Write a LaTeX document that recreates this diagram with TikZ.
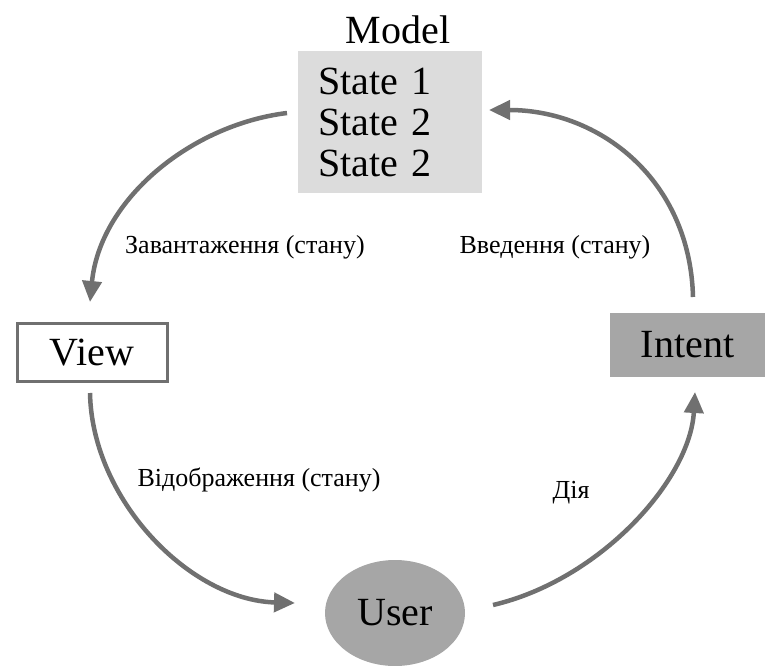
\documentclass[tikz,border=0pt]{standalone}
\usepackage{fontspec}
\setmainfont{Liberation Serif}
\usetikzlibrary{arrows.meta,shapes.geometric}
\definecolor{flowgray}{HTML}{707070}
\definecolor{modelgray}{HTML}{DCDCDC}
\definecolor{darkgray}{HTML}{A6A6A6}
\tikzset{
bigtext/.style={font=\fontsize{40}{41}\selectfont},
smalltext/.style={font=\fontsize{26}{30}\selectfont},
modelbox/.style={bigtext, fill=modelgray, minimum width=184pt, minimum height=141pt,
  text width=144pt, inner xsep=20pt, inner ysep=0pt, align=left},
viewbox/.style={bigtext, draw=flowgray, line width=3pt, minimum width=150pt, minimum height=58pt, inner sep=0pt},
intentbox/.style={bigtext, fill=darkgray, minimum width=155pt, minimum height=64pt, inner sep=0pt},
userblob/.style={bigtext, ellipse, fill=darkgray, minimum width=140pt, minimum height=106pt, inner sep=0pt},
flow/.style={draw=flowgray, line width=4.5pt, -{Triangle[length=21pt,width=19pt]}}
}
\begin{document}
\begin{tikzpicture}[x=1pt,y=-1pt]
\useasboundingbox (0,0) rectangle (765,666);
\node[bigtext] (modellbl) at (398,30) {Model};
\node[modelbox] (model) at (390,122) {State 1\\State 2\\State 2};
\node[viewbox] (view) at (92,352.5) {View};
\node[intentbox] (intent) at (687.5,345) {Intent};
\node[userblob] (user) at (395,613) {User};

\coordinate (loadS) at (287,113);
\coordinate (loadE) at (90,302);
\coordinate (showS) at (90,393);
\coordinate (showE) at (295,603);
\coordinate (actS) at (493,605);
\coordinate (actE) at (695,392);
\coordinate (inS) at (693,297);
\coordinate (inE) at (489,110);

\draw[flow] (loadS) .. controls (190,125) and (100,200) .. (loadE);
\draw[flow] (showS) .. controls (92,500) and (190,600) .. (showE);
\draw[flow] (actS) .. controls (600,580) and (690,480) .. (actE);
\draw[flow] (inS) .. controls (690,180) and (600,110) .. (inE);

\node[smalltext] (loadlbl) at (245,247) {Завантаження (стану)};
\node[smalltext] (inlbl) at (555,247) {Введення (стану)};
\node[smalltext] (showlbl) at (259,480) {Відображення (стану)};
\node[smalltext] (actlbl) at (571,493) {Дія};
\end{tikzpicture}
\end{document}
